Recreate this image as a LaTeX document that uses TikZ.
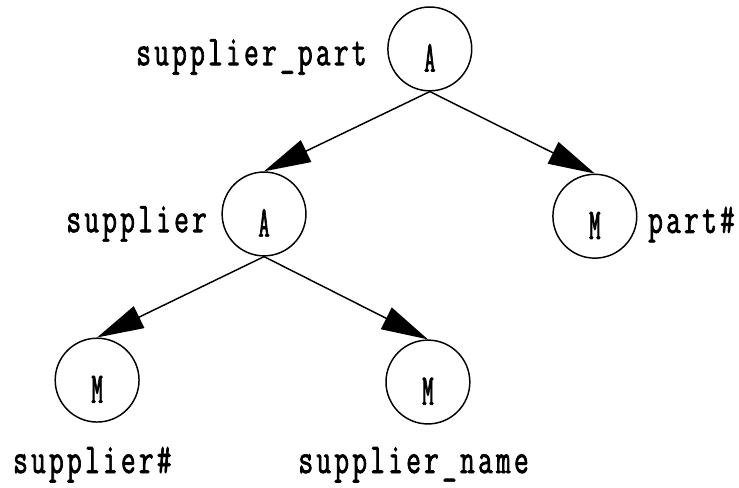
\documentclass[tikz,border=0pt]{standalone}
\usepackage{fontspec}
\setmonofont[FakeStretch=0.67, FakeBold=1.6, LetterSpace=7.6]{Latin Modern Mono}
\newfontfamily\opfont[FakeStretch=0.5, FakeBold=1.6]{Latin Modern Mono}
\usepackage{tikz}
\usetikzlibrary{arrows.meta, positioning}

\begin{document}
\begin{tikzpicture}[
  op/.style={draw, circle, line width=1.1pt, inner sep=0pt,
    minimum size=2.21cm, text height=34pt, text depth=0pt,
    font=\opfont\fontsize{33}{36}\selectfont},
  lbl/.style={inner sep=0pt, font=\ttfamily\fontsize{32}{36}\selectfont},
  arr/.style={-{Triangle[length=35pt, width=18pt]}, line width=1.1pt}
]
\useasboundingbox (0,0) rectangle (19.48,12.84);

% Aggregation nodes
\node[op] (agg1) at (11.33, 11.55) {A};
\node[op] (agg2) at (6.96, 7.20)   {A};

% Member nodes
\node[op] (mpart) at (15.68, 7.14) {M};
\node[op] (msno)  at (2.56, 2.82)  {M};
\node[op] (mname) at (11.28, 2.77) {M};

% Names beside the nodes
\node[lbl, anchor=base east] (lagg1)  at (9.67, 11.12) {supplier\_part};
\node[lbl, anchor=base east] (lagg2)  at (5.46, 6.72)  {supplier};
\node[lbl, anchor=base west] (lpart)  at (17.08, 6.70) {part\#};
\node[lbl, anchor=base west] (lsno)   at (0.34, 0.37)  {supplier\#};
\node[lbl, anchor=base west] (lname)  at (7.86, 0.37)  {supplier\_name};

\draw[arr] (agg1.south) -- (agg2.north);
\draw[arr] (agg1.south) -- (mpart.north);
\draw[arr] (agg2.south) -- (msno.north);
\draw[arr] (agg2.south) -- (mname.north);
\end{tikzpicture}
\end{document}
